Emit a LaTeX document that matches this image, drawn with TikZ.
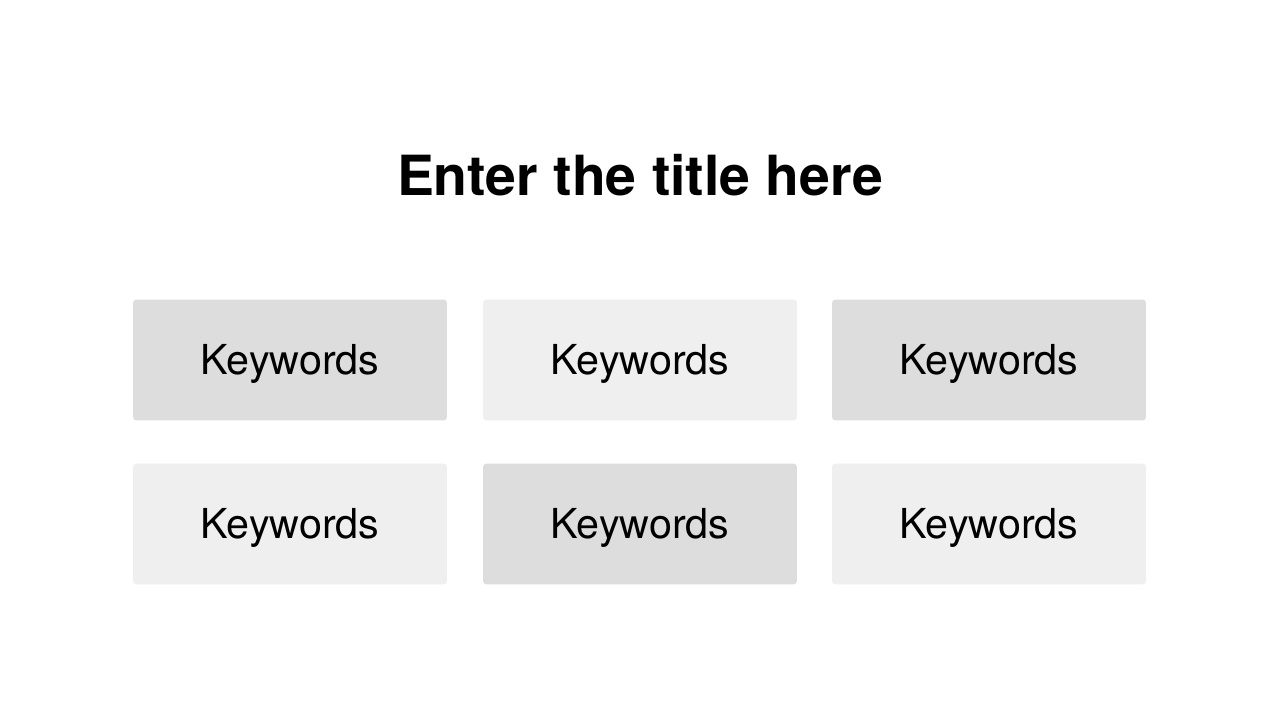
\documentclass[tikz,border=0pt]{standalone}
\usepackage{fontspec}
\setmainfont{TeX Gyre Heros}
\usepackage{xcolor}
\usetikzlibrary{positioning}
\definecolor{keydark}{HTML}{DDDDDD}
\definecolor{keylight}{HTML}{EFEFEF}

\begin{document}
\begin{tikzpicture}[x=0.02cm, y=0.02cm,
    keybox/.style={fill=#1, rounded corners=2pt, minimum width=6.28cm, minimum height=2.42cm,
      inner sep=0pt, text height=0.6cm, text depth=0pt, font=\fontsize{23.5}{27}\selectfont}]
   % Canvas (1280 x 720 px)
   \useasboundingbox[fill=white] (0,0) rectangle (1280,720);
   % Title
   \node[font=\bfseries\fontsize{31.5}{38}\selectfont, text height=0.8cm, text depth=0pt] (title) at (640,544.5) {Enter the title here};
   % Keyword boxes
   \node[keybox=keydark]  (k1) at (290,360) {Keywords};
   \node[keybox=keylight] (k2) at (640,360) {Keywords};
   \node[keybox=keydark]  (k3) at (989,360) {Keywords};
   \node[keybox=keylight] (k4) at (290,196) {Keywords};
   \node[keybox=keydark]  (k5) at (640,196) {Keywords};
   \node[keybox=keylight] (k6) at (989,196) {Keywords};
\end{tikzpicture}
\end{document}
